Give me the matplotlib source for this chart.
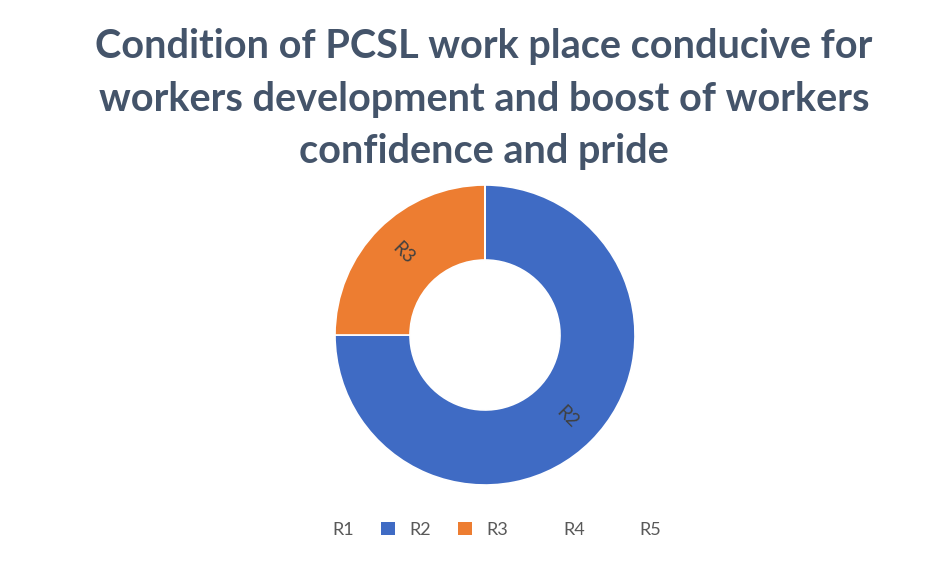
import numpy as np
import matplotlib
matplotlib.use('Agg')
from matplotlib import pyplot as plt
from matplotlib.patches import Patch

title = 'Condition of PCSL work place conducive for\nworkers development and boost of workers\nconfidence and pride'
labels = ['R1', 'R2', 'R3', 'R4', 'R5']
values = [0, 75, 25, 0, 0]
colors = ['#A5A5A5', '#3F6BC4', '#ED7D31', '#FFC000', '#5B9BD5']

plt.rcParams['font.family'] = ['Lato', 'DejaVu Sans']

fig = plt.figure(figsize=(9.53, 5.71), dpi=100)
fig.text(0.508, 0.951, title, ha='center', va='top', fontsize=28.5, fontweight='bold',
         color='#44546A', linespacing=1.52)

# donut centred at (485, 335) px, outer radius 150 px
W, H = 953, 571
cx, cy, r = 485, H - 335, 150
ax = fig.add_axes([(cx - r) / W, (cy - r) / H, 2 * r / W, 2 * r / H])
wedges, _ = ax.pie(values, colors=colors, startangle=90, counterclock=False,
                   radius=1, wedgeprops=dict(width=0.5, edgecolor='white', linewidth=1.2))
ax.set_xlim(-1, 1)
ax.set_ylim(-1, 1)
ax.set_aspect('equal')

for w, lab, v in zip(wedges, labels, values):
    if v == 0:
        continue
    mid = np.deg2rad((w.theta1 + w.theta2) / 2)
    rr = 0.77
    ax.text(rr * np.cos(mid), rr * np.sin(mid), lab, ha='center', va='center',
            rotation=-45, fontsize=13.5, color='#404040')

handles = []
for lab, v, c in zip(labels, values, colors):
    if v == 0:
        handles.append(Patch(facecolor='none', edgecolor='none', label=lab))
    else:
        handles.append(Patch(facecolor=c, edgecolor='none', label=lab))
leg = fig.legend(handles=handles, loc='center', bbox_to_anchor=(0.507, (H - 530) / H),
                 ncol=5, frameon=False, fontsize=13, handlelength=0.75, handleheight=0.75,
                 columnspacing=1.5, handletextpad=0.8)
for t in leg.get_texts():
    t.set_color('#595959')

plt.savefig('out.png', dpi=100, facecolor='white')
